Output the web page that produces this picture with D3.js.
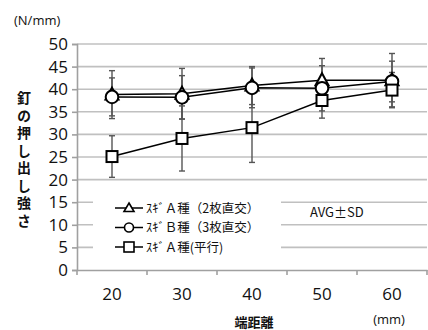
<!DOCTYPE html>
<html>
<head>
<meta charset="utf-8">
<script src="https://cdn.jsdelivr.net/npm/d3@7"></script>
<style>
  body { margin: 0; background: #fff; }
  svg { display: block; }
</style>
</head>
<body>
<div id="chart"></div>
<script>
// edge distance categories (mm)
var distances = ['20', '30', '40', '50', '60'];
var yTicks = [0, 5, 10, 15, 20, 25, 30, 35, 40, 45, 50];

var seriesNames = ['ｽｷﾞＡ種（2枚直交）', 'ｽｷﾞＢ種（3枚直交）', 'ｽｷﾞＡ種(平行)'];
var seriesMarks = ['triangle', 'circle', 'square'];
// average push-out strength, N/mm
var avgA2 = [38.8, 39.0, 40.8, 42.0, 42.0];
var avgB3 = [38.3, 38.2, 40.3, 40.2, 41.7];
var avgAp = [25.1, 29.1, 31.5, 37.5, 39.8];
// standard deviation
var sdA2 = [5.3, 5.6, 4.2, 4.8, 5.9];
var sdB3 = [4.2, 4.8, 4.4, 5.0, 4.5];
var sdAp = [4.6, 7.2, 7.7, 3.9, 3.9];

var width = 428,
    height = 330;
var margin = {top: 44, right: 1, bottom: 60, left: 77};

var svg = d3.select('#chart').append('svg')
  .attr('width', width)
  .attr('height', height);

var x = d3.scaleBand()
  .domain(distances)
  .range([margin.left, width - margin.right])
  .padding(0);
var y = d3.scaleLinear()
  .domain([0, 50])
  .range([height - margin.bottom, margin.top]);

var numFont = '"Open Sans", "Noto Sans", sans-serif';
var jpFont = '"Noto Sans CJK JP", sans-serif';

// gridlines
svg.append('g')
  .selectAll('line')
  .data(yTicks.filter(function(d) { return d > 0; }))
  .enter().append('line')
    .attr('x1', margin.left)
    .attr('x2', width - margin.right)
    .attr('y1', function(d) { return y(d); })
    .attr('y2', function(d) { return y(d); })
    .style('stroke', '#c0c0c0')
    .style('stroke-width', 1.6);

// y axis
var yAxis = svg.append('g')
  .attr('transform', 'translate(' + margin.left + ',0)')
  .call(d3.axisLeft(y).tickValues(yTicks).tickSize(5).tickPadding(4));
yAxis.selectAll('text')
  .style('font-family', numFont)
  .style('font-size', '17px')
  .style('fill', '#111');

// x axis with ticks at band edges
var xAxis = svg.append('g')
  .attr('transform', 'translate(0,' + y(0) + ')')
  .call(d3.axisBottom(x).tickSize(0).tickPadding(18));
xAxis.selectAll('text')
  .style('font-family', numFont)
  .style('font-size', '17px')
  .style('fill', '#111');
xAxis.selectAll('.tick-edge')
  .data(distances.concat(['end']))
  .enter().append('line')
    .attr('x1', function(d, i) { return margin.left + i * x.bandwidth(); })
    .attr('x2', function(d, i) { return margin.left + i * x.bandwidth(); })
    .attr('y1', 0)
    .attr('y2', 5);

yAxis.selectAll('.domain, line').style('stroke', '#a0a0a0').style('stroke-width', 1.6);
xAxis.selectAll('.domain, line').style('stroke', '#a0a0a0').style('stroke-width', 1.6);

// legend background (hides gridlines behind it)
svg.append('rect')
  .attr('x', 93)
  .attr('y', 192)
  .attr('width', 188)
  .attr('height', 66)
  .style('fill', '#fff');

var avgs = [avgA2, avgB3, avgAp];
var sds = [sdA2, sdB3, sdAp];

function cx(i) { return x(distances[i]) + x.bandwidth() / 2; }

function drawMarker(g, type, px, py) {
  var m;
  if (type === 'circle') {
    m = g.append('circle').attr('cx', px).attr('cy', py).attr('r', 6.3);
  } else if (type === 'square') {
    m = g.append('rect').attr('x', px - 5.5).attr('y', py - 5.5)
      .attr('width', 11).attr('height', 11);
  } else {
    m = g.append('path')
      .attr('d', 'M' + px + ',' + (py - 7) + 'L' + (px + 6.5) + ',' + (py + 5) + 'L' + (px - 6.5) + ',' + (py + 5) + 'Z');
  }
  m.style('fill', '#fff').style('stroke', '#000').style('stroke-width', 2);
}

var line = d3.line()
  .x(function(d, i) { return cx(i); })
  .y(function(d) { return y(d); });

// error bars first
avgs.forEach(function(vals, s) {
  var g = svg.append('g').attr('class', 'err');
  vals.forEach(function(v, i) {
    var px = cx(i), sd = sds[s][i];
    g.append('line').attr('x1', px).attr('x2', px)
      .attr('y1', y(v + sd)).attr('y2', y(v - sd));
    [v + sd, v - sd].forEach(function(e) {
      g.append('line').attr('x1', px - 3).attr('x2', px + 3)
        .attr('y1', y(e)).attr('y2', y(e));
    });
  });
  g.selectAll('line').style('stroke', '#555').style('stroke-width', 1.4);
});

// lines and markers
avgs.forEach(function(vals, s) {
  var g = svg.append('g');
  g.append('path')
    .datum(vals)
    .attr('d', line)
    .style('fill', 'none')
    .style('stroke', '#000')
    .style('stroke-width', 1.5);
  vals.forEach(function(v, i) { drawMarker(g, seriesMarks[s], cx(i), y(v)); });
});

// legend
seriesNames.forEach(function(name, i) {
  var ly = 208 + i * 19.5;
  var g = svg.append('g');
  g.append('line').attr('x1', 115).attr('x2', 143).attr('y1', ly).attr('y2', ly)
    .style('stroke', '#000').style('stroke-width', 1.5);
  var m = seriesMarks[i];
  if (m === 'circle') {
    g.append('circle').attr('cx', 129).attr('cy', ly).attr('r', 4.5)
      .style('fill', '#fff').style('stroke', '#000').style('stroke-width', 1.6);
  } else if (m === 'square') {
    g.append('rect').attr('x', 124).attr('y', ly - 5).attr('width', 10).attr('height', 10)
      .style('fill', '#fff').style('stroke', '#000').style('stroke-width', 1.6);
  } else {
    g.append('path').attr('d', 'M129,' + (ly - 5) + 'L134,' + (ly + 3.5) + 'L124,' + (ly + 3.5) + 'Z')
      .style('fill', '#fff').style('stroke', '#000').style('stroke-width', 1.6);
  }
  g.append('text')
    .attr('x', 146)
    .attr('y', ly)
    .attr('dy', '0.36em')
    .style('font-family', jpFont)
    .style('font-size', '12.5px')
    .style('fill', '#111')
    .text(name);
});

// annotation
svg.append('text')
  .attr('x', 310).attr('y', 212).attr('dy', '0.36em')
  .style('font-family', jpFont)
  .style('font-size', '13px')
  .style('fill', '#111')
  .text('AVG±SD');

// units and axis titles
svg.append('text')
  .attr('x', 14).attr('y', 20).attr('dy', '0.36em')
  .style('font-family', numFont)
  .style('font-size', '13px')
  .style('fill', '#111')
  .text('(N/mm)');

svg.append('text')
  .attr('x', 389).attr('y', 319).attr('dy', '0.36em')
  .attr('text-anchor', 'middle')
  .style('font-family', numFont)
  .style('font-size', '13px')
  .style('fill', '#111')
  .text('(mm)');

svg.append('text')
  .attr('x', 254).attr('y', 322).attr('dy', '0.36em')
  .attr('text-anchor', 'middle')
  .style('font-family', jpFont)
  .style('font-size', '13px')
  .style('font-weight', 'bold')
  .style('fill', '#111')
  .text('端距離');

// vertical y-axis title as one text element
svg.append('text')
  .attr('x', 24)
  .attr('y', 91)
  .style('writing-mode', 'vertical-rl')
  .style('text-orientation', 'upright')
  .style('letter-spacing', '3.5px')
  .style('font-family', jpFont)
  .style('font-size', '14px')
  .style('font-weight', 'bold')
  .style('fill', '#111')
  .text('釘の押し出し強さ');
</script>
</body>
</html>
